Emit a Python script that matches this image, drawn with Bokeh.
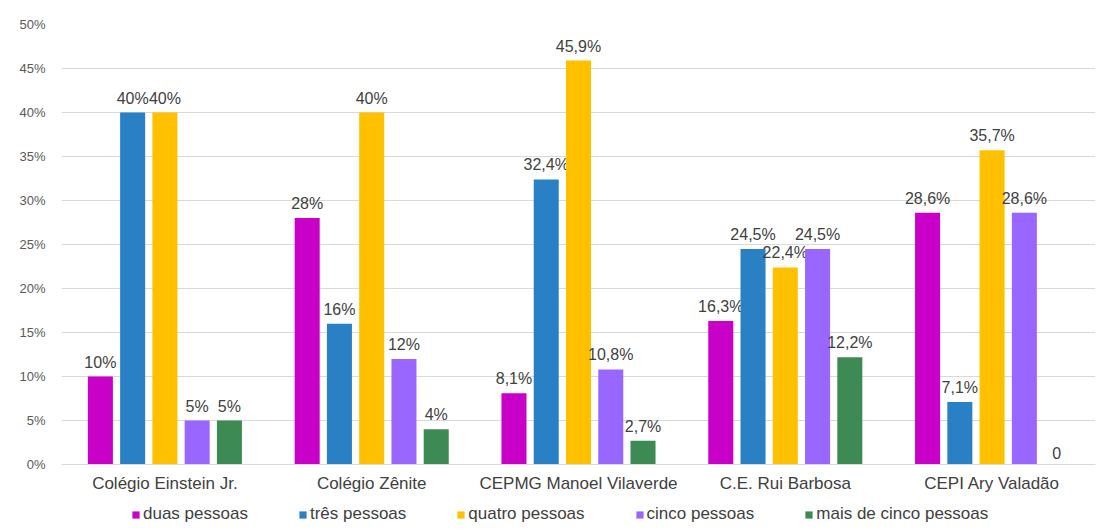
from bokeh.plotting import figure
from bokeh.models import ColumnDataSource, FactorRange, Legend, LegendItem, CustomJSTickFormatter
from bokeh.layouts import column
from bokeh.transform import dodge
from bokeh.embed import file_html
from bokeh.resources import INLINE
from bokeh.core.properties import value

schools = ["Colégio Einstein Jr.", "Colégio Zênite", "CEPMG Manoel Vilaverde", "C.E. Rui Barbosa", "CEPI Ary Valadão"]
series = ["duas pessoas", "três pessoas", "quatro pessoas", "cinco pessoas", "mais de cinco pessoas"]
duas = [10, 28, 8.1, 16.3, 28.6]
tres = [40, 16, 32.4, 24.5, 7.1]
quatro = [40, 40, 45.9, 22.4, 35.7]
cinco = [5, 12, 10.8, 24.5, 28.6]
mais = [5, 4, 2.7, 12.2, 0]
colors = ["#C800C8", "#2A80C5", "#FFC000", "#9966FF", "#3E8A54"]
y_ticks = [0, 5, 10, 15, 20, 25, 30, 35, 40, 45, 50]

values = [duas, tres, quatro, cinco, mais]

def fmt(v):
    if v == 0:
        return "0"
    if float(v).is_integer():
        return "%d%%" % int(v)
    return ("%.1f%%" % v).replace(".", ",")

FONT = "Liberation Sans"
W = 1099

p = figure(x_range=FactorRange(*schools, range_padding=0), y_range=(0, 50),
           width=W, height=495, output_backend="svg", toolbar_location=None,
           min_border_left=61, min_border_right=4, min_border_top=24, min_border_bottom=10)

stride = 0.156
bw = 0.121
for i, (name, vals, col) in enumerate(zip(series, values, colors)):
    src = ColumnDataSource(dict(x=schools, y=vals, lab=[fmt(v) for v in vals]))
    off = (i - 2) * stride
    p.vbar(x=dodge("x", off, range=p.x_range), top="y", width=bw, source=src,
           fill_color=col, line_color=None)
    p.text(x=dodge("x", off, range=p.x_range), y="y", text="lab", source=src,
           text_align="center", text_baseline="bottom", y_offset=-6,
           text_font=value(FONT), text_font_size="16px", text_color="#404040")

p.xgrid.grid_line_color = None
p.ygrid.grid_line_color = "#D9D9D9"
p.yaxis.ticker = y_ticks
p.yaxis.formatter = CustomJSTickFormatter(code="return tick + '%';")
p.yaxis.axis_line_color = None
p.yaxis.major_tick_line_color = None
p.yaxis.minor_tick_line_color = None
p.yaxis.major_tick_out = 0
p.yaxis.major_label_text_font = FONT
p.yaxis.major_label_text_font_size = "13px"
p.yaxis.major_label_text_color = "#595959"
p.yaxis.major_label_standoff = 16

p.xaxis.axis_line_color = "#D9D9D9"
p.xaxis.major_tick_line_color = None
p.xaxis.minor_tick_line_color = None
p.xaxis.major_tick_out = 0
p.xaxis.major_label_text_font = FONT
p.xaxis.major_label_text_font_size = "17px"
p.xaxis.major_label_text_color = "#404040"
p.xaxis.major_label_standoff = 9
p.outline_line_color = None

# legend strip below the chart (its frame is aligned with the chart frame by column)
lg = figure(width=W, height=35, output_backend="svg", toolbar_location=None,
            x_range=(0, 1), y_range=(0, 1), x_axis_location=None, y_axis_location=None,
            min_border_left=0, min_border_right=0, min_border_top=0, min_border_bottom=0)
lg.grid.grid_line_color = None
lg.outline_line_color = None
items = []
for name, col in zip(series, colors):
    r = lg.vbar(x=[0.5], top=[0], bottom=[0], width=0.01, fill_color=col, line_color=None)
    items.append(LegendItem(label=name, renderers=[r]))
legend = Legend(items=items, orientation="horizontal", location=(70, 6),
                glyph_width=9, glyph_height=9, label_text_font=FONT,
                label_text_font_size="17px", label_text_color="#404040",
                spacing=50, padding=0, margin=0, border_line_color=None,
                background_fill_alpha=0, label_standoff=3)
lg.add_layout(legend, "center")

layout = column(p, lg, spacing=0)
open("out.html", "w").write(file_html(layout, INLINE))
